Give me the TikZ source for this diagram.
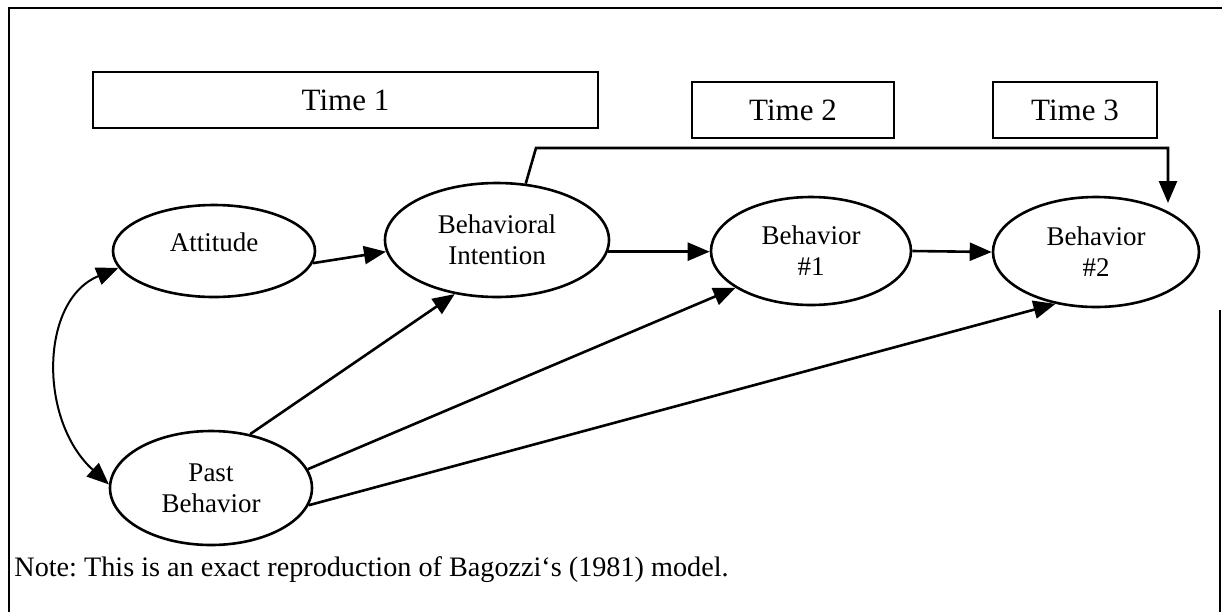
\documentclass[tikz,border=0pt]{standalone}
\usepackage{fontspec}
\setmainfont{Liberation Serif}
\usetikzlibrary{shapes.geometric,arrows.meta}
\frenchspacing
\begin{document}
\begin{tikzpicture}[x=0.5pt,y=-0.5pt,
 state/.style={draw,ellipse,line width=1.3pt,inner sep=0pt,align=center,
  font=\fontsize{13.5}{15.5}\selectfont},
 timebox/.style={draw,line width=0.9pt,inner sep=0pt,minimum height=28pt,
  font=\fontsize{15.5}{18}\selectfont},
 arr/.style={line width=1.3pt,-{Triangle[length=11pt,width=9pt]}}]
 \useasboundingbox (0,0) rectangle (1222,612);
 \draw[line width=0.8pt] (9,612) -- (9,8) -- (1222,8);
 \draw[line width=0.6pt] (1220,310) -- (1220,612);
 \node[timebox,minimum width=252.5pt] (time1) at (345.5,100) {Time 1};
 \node[timebox,minimum width=101pt] (time2) at (793,110) {Time 2};
 \node[timebox,minimum width=82pt] (time3) at (1075,110) {Time 3};
 \node[state,minimum width=101pt,minimum height=46pt,text depth=9pt] (att) at (214,251) {Attitude};
 \node[state,minimum width=112pt,minimum height=57pt] (bi) at (497,240) {Behavioral\\Intention};
 \node[state,minimum width=100pt,minimum height=54pt] (beh1) at (811,251) {Behavior\\\#1};
 \node[state,minimum width=103pt,minimum height=55pt] (beh2) at (1096,252) {Behavior\\\#2};
 \node[state,minimum width=101pt,minimum height=57pt] (past) at (211,488) {Past\\Behavior};
 \coordinate (bend1) at (536,148);
 \coordinate (bend2) at (1168,148);
 \coordinate (tip3) at (1168,203);
 \draw[arr] (att.-7) -- (bi.186);
 \draw[arr] (bi.-6) -- (bi.-6 -| beh1.west);
 \draw[arr] (beh1.east) -- (beh2.west);
 \draw[arr] (bi.63) -- (bend1) -- (bend2) -- (tip3);
 \draw[arr] (past.54) -- (bi.232);
 \draw[arr] (past.11) -- (beh1.206);
 \draw[arr] (past.-10) -- (beh2.232);
 \draw[line width=1pt,{Triangle[length=11pt,width=9pt]}-{Triangle[length=11pt,width=9pt]}]
  (att.190) .. controls (40,300) and (38,420) .. (past.178);
 \node[anchor=base west,inner sep=0pt,font=\fontsize{14.1}{16}\selectfont] (note) at (14,576)
  {Note: This is an exact reproduction of Bagozzi`s (1981) model.};
\end{tikzpicture}
\end{document}
